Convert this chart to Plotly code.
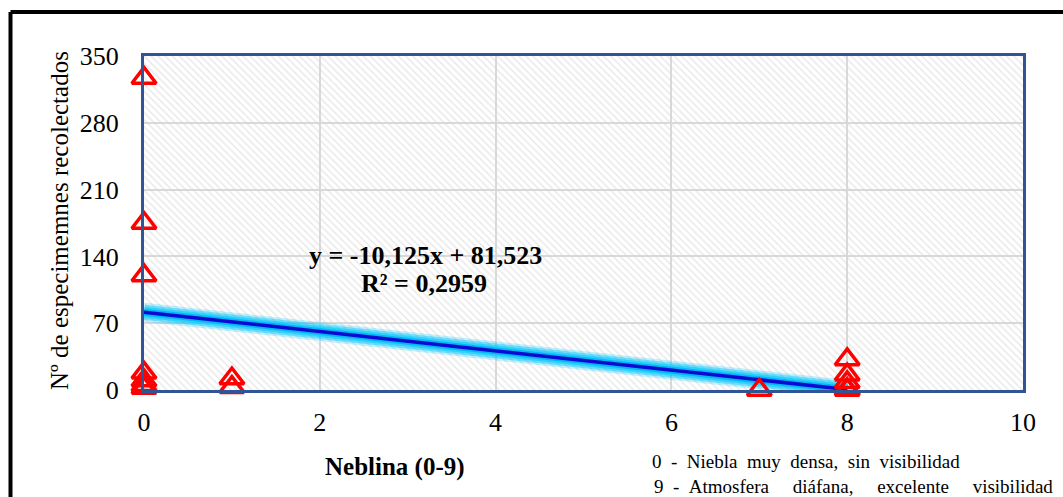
import plotly.graph_objects as go

# Fog level (0-9) vs number of specimens collected
neblina = [0, 0, 0, 0, 0, 0, 0, 1, 1, 7, 8, 8, 8, 8, 8]
especimenes = [327, 175, 120, 18, 10, 5, 2, 12, 3, 0, 32, 16, 8, 1, 0]

# Linear trend (slope, intercept) and fitted range
trend_coef = [-10.125, 81.523]
trend_x = [0, 8]
r2 = 0.2959

x_range = [0, 10]
y_range = [0, 350]
x_ticks = [0, 2, 4, 6, 8, 10]
y_ticks = [0, 70, 140, 210, 280, 350]

W, H = 1063, 497
L, R, T, B = 144, 40, 56, 107
pw, ph = W - L - R, H - T - B

def px_x(p):
    return (p - L) / pw

def px_y(p):
    return (H - B - p) / ph

serif = "Liberation Serif"
NB = "\u00a0"

fig = go.Figure()

# hatched plot-area background
fig.add_trace(go.Scatter(
    x=[x_range[0], x_range[1], x_range[1], x_range[0], x_range[0]],
    y=[y_range[0], y_range[0], y_range[1], y_range[1], y_range[0]],
    mode="none", fill="toself", fillcolor="rgba(0,0,0,0)",
    fillpattern=dict(shape="\\", fgcolor="#d4d4d4", bgcolor="rgba(0,0,0,0)",
                     size=5, solidity=0.3),
    hoverinfo="skip", showlegend=False,
))

# trend line with glow
ty = [trend_coef[0] * v + trend_coef[1] for v in trend_x]
for w, c in [(19, "rgba(0,195,250,0.25)"), (15, "rgba(0,195,250,0.42)"),
             (11, "rgba(20,205,255,0.7)"), (7, "rgba(0,180,245,0.9)")]:
    fig.add_trace(go.Scatter(x=trend_x, y=ty, mode="lines",
                             line=dict(color=c, width=w),
                             hoverinfo="skip", showlegend=False))
fig.add_trace(go.Scatter(x=trend_x, y=ty, mode="lines",
                         line=dict(color="#0a0ad0", width=3.5),
                         showlegend=False))

# observations
fig.add_trace(go.Scatter(
    x=neblina, y=especimenes, mode="markers",
    marker=dict(symbol="triangle-up-open", size=21, color="#ff0000",
                line=dict(color="#ff0000", width=3.5)),
    cliponaxis=False, showlegend=False,
))

axis_common = dict(
    showline=True, linecolor="#2f5597", linewidth=3, mirror=True,
    showgrid=True, gridcolor="#d9d9d9", gridwidth=1.5, zeroline=False,
    tickfont=dict(family=serif, size=26, color="black"),
)

fig.update_xaxes(range=x_range, tickvals=x_ticks, ticklabelstandoff=7,
                 **axis_common)
fig.update_yaxes(range=y_range, tickvals=y_ticks, ticklabelstandoff=17,
                 **axis_common)

annotations = [
    dict(x=425, y=255, text="<b>y = -10,125x + 81,523</b>", size=26),
    dict(x=424, y=283, text="<b>R² = 0,2959</b>", size=26),
    dict(x=395, y=467, text="<b>Neblina (0-9)</b>", size=25),
    dict(x=650, y=461,
         text=(NB * 2).join(["0", "-", "Niebla", "muy", "densa,", "sin",
                             "visibilidad"]),
         size=19, anchor="left"),
    dict(x=652, y=486,
         text=(NB * 2).join(["9", "-", "Atmosfera"]) + NB * 5
         + (NB * 5).join(["diáfana,", "excelente", "visibilidad"]),
         size=19, anchor="left"),
]
for a in annotations:
    fig.add_annotation(
        x=px_x(a["x"]), y=px_y(a["y"]), xref="paper", yref="paper",
        text=a["text"], showarrow=False,
        xanchor=a.get("anchor", "center"), yanchor="middle",
        font=dict(family=serif, size=a["size"], color="black"),
    )

# y-axis title
fig.add_annotation(
    x=px_x(60), y=px_y(221), xref="paper", yref="paper",
    text="Nº de especimemnes recolectados", textangle=-90, showarrow=False,
    xanchor="center", yanchor="middle",
    font=dict(family=serif, size=25, color="black"),
)

# outer frame (left and top edges)
fx, fy = px_x(10.5), px_y(12)
fig.add_shape(type="line", xref="paper", yref="paper",
              x0=fx, y0=px_y(H + 5), x1=fx, y1=fy,
              line=dict(color="black", width=4))
fig.add_shape(type="line", xref="paper", yref="paper",
              x0=fx, y0=fy, x1=px_x(W + 5), y1=fy,
              line=dict(color="black", width=4))

fig.update_layout(
    width=W, height=H,
    margin=dict(l=L, r=R, t=T, b=B),
    paper_bgcolor="white", plot_bgcolor="white",
    font=dict(family=serif),
    showlegend=False,
)

fig.write_html("out.html")
